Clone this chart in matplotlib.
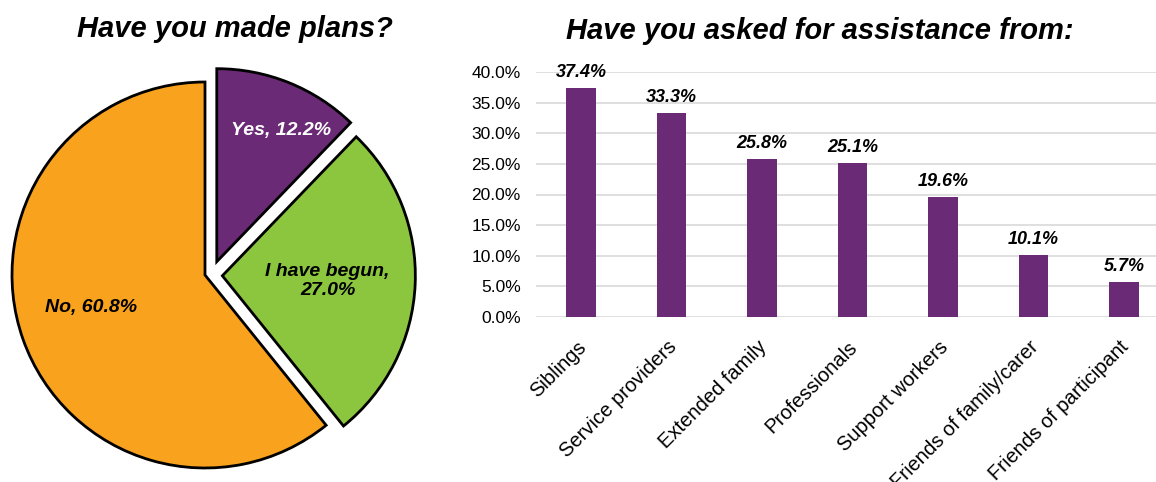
import matplotlib.pyplot as plt
from matplotlib.ticker import FuncFormatter
import matplotlib.transforms as mtrans

plt.rcParams['font.family'] = ['Liberation Sans', 'DejaVu Sans']

## 数据
pie_labels = ['Yes, 12.2%', 'I have begun,\n27.0%', 'No, 60.8%']
pie_values = [12.2, 27.0, 60.8]
pie_colors = ['#6A2A75', '#8CC63F', '#F8A21E']
pie_explode = [0.09, 0.09, 0.0]

categories = ['Siblings', 'Service providers', 'Extended family', 'Professionals',
              'Support workers', 'Friends of family/carer', 'Friends of participant']
values = [37.4, 33.3, 25.8, 25.1, 19.6, 10.1, 5.7]
bar_color = '#6A2A75'

W, H = 1156, 482
fig = plt.figure(figsize=(W / 100, H / 100), dpi=100)

## 饼图
R = 193.0
cx, cy = 205, 275
L = 215.0
ax1 = fig.add_axes([(cx - L) / W, (H - cy - L) / H, 2 * L / W, 2 * L / H])
wedges, _ = ax1.pie(pie_values, colors=pie_colors, explode=pie_explode,
                    startangle=90, counterclock=False, radius=1.0,
                    wedgeprops=dict(edgecolor='black', linewidth=2))
for w in wedges:
    w.set_clip_on(False)
# 紫色扇区的偏移方向与 Excel 一致
wedges[0].set_center((0.061, 0.069))
ax1.set_xlim(-L / R, L / R)
ax1.set_ylim(-L / R, L / R)
ax1.set_aspect('equal')
ax1.axis('off')
lab_pos = [(0.396, 0.75), (0.635, -0.03), (-0.59, -0.166)]
lab_col = ['white', 'black', 'black']
for txt, (x, y), c in zip(pie_labels, lab_pos, lab_col):
    ax1.text(x, y, txt, ha='center', va='center', color=c, fontsize=14,
             fontweight='bold', fontstyle='italic', linespacing=1.15)
fig.text(235 / W, 1 - 29 / H, 'Have you made plans?', ha='center', va='center',
         fontsize=21, fontweight='bold', fontstyle='italic')

## 柱状图
x0, x1 = 536, 1156
y0, y40 = 317, 72
step = 90.5
ax2 = fig.add_axes([x0 / W, (H - y0) / H, (x1 - x0) / W, (y0 - y40) / H])
xs = list(range(len(categories)))
ax2.bar(xs, values, width=0.33, color=bar_color, zorder=3)
ax2.set_xlim(-(581 - x0) / step, 6 + (x1 - 1124) / step)
ax2.set_ylim(0, 40)
ax2.set_yticks([0, 5, 10, 15, 20, 25, 30, 35, 40])
ax2.yaxis.set_major_formatter(FuncFormatter(lambda v, p: '%.1f%%' % v))
ax2.grid(axis='y', color='#D9D9D9', linewidth=1.2, zorder=0)
for s in ax2.spines.values():
    s.set_visible(False)
ax2.tick_params(axis='both', length=0, colors='black')
ax2.tick_params(axis='y', pad=11, labelsize=12.5)
ax2.tick_params(axis='x', pad=0)
ax2.set_xticks(xs)
ax2.set_xticklabels(categories, rotation=45, ha='right', va='center',
                    rotation_mode='anchor', fontsize=14.5)
off = mtrans.ScaledTranslation(2 / 100, -27 / 100, fig.dpi_scale_trans)
for t in ax2.get_xticklabels():
    t.set_transform(t.get_transform() + off)
for x, v in zip(xs, values):
    ax2.annotate('%.1f%%' % v, (x, v), xytext=(0, 8), textcoords='offset points',
                 ha='center', va='baseline', fontsize=13, fontweight='bold',
                 fontstyle='italic')
fig.text(820 / W, 1 - 31 / H, 'Have you asked for assistance from:', ha='center',
         va='center', fontsize=21, fontweight='bold', fontstyle='italic')

plt.savefig('out.png', dpi=100)
